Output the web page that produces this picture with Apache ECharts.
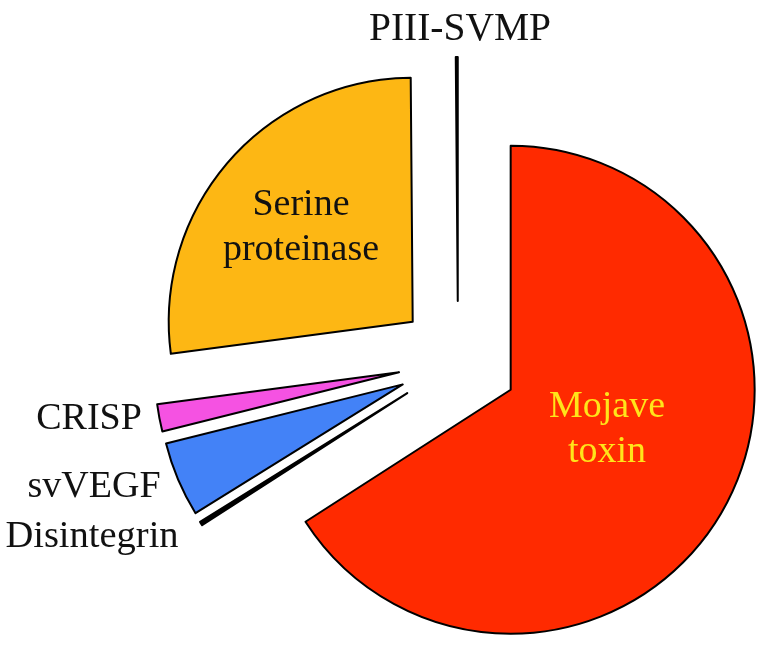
<!DOCTYPE html>
<html>
<head>
<meta charset="utf-8">
<script src="https://cdn.jsdelivr.net/npm/echarts@6/dist/echarts.min.js"></script>
<style>html,body{margin:0;padding:0;background:#fff}#c{width:767px;height:651px}</style>
</head>
<body>
<div id="c"></div>
<script>
// Data (percent of venom), clockwise from 12 o'clock
var categories = ['Mojave toxin', 'Disintegrin', 'svVEGF', 'CRISP', 'Serine proteinase', 'PIII-SVMP'];
var values = [65.9, 0.25, 4.95, 1.8, 26.97, 0.13];
var labelTexts = ['Mojave\ntoxin', 'Disintegrin', 'svVEGF', 'CRISP', 'Serine\nproteinase', 'PIII-SVMP'];

var colors = ['#FF2A00', '#000000', '#4382F7', '#F552E2', '#FDB714', '#000000'];
var labelColors = ['#FFE51A', '#111', '#111', '#111', '#111', '#111'];
var labelPos = [
  [607, 430],
  [92, 537],
  [94, 487],
  [89, 419],
  [301, 228],
  [460, 30]
];
var labelSizes = [38, 38.5, 38, 38, 38, 39.5];

var chart = echarts.init(document.getElementById('c'), null, {renderer: 'canvas'});
var data = categories.map(function (c, i) {
  return {
    name: c,
    value: values[i],
    selected: true,
    itemStyle: {color: colors[i]}
  };
});
var texts = labelTexts.map(function (t, i) {
  return {
    type: 'text',
    x: labelPos[i][0],
    y: labelPos[i][1],
    z: 100,
    zlevel: 0,
    silent: true,
    style: {
      text: t,
      fill: labelColors[i],
      font: labelSizes[i] + 'px "Liberation Serif"',
      lineHeight: 45,
      textAlign: 'center',
      textVerticalAlign: 'middle'
    }
  };
});
chart.setOption({
  animation: false,
  backgroundColor: '#fff',
  series: [{
    type: 'pie',
    z: 2,
    center: [458, 361],
    radius: [0, 244],
    startAngle: 90,
    clockwise: true,
    selectedMode: 'multiple',
    selectedOffset: 60,
    avoidLabelOverlap: false,
    minAngle: 0,
    silent: true,
    itemStyle: {borderColor: '#000', borderWidth: 2},
    label: {show: false},
    labelLine: {show: false},
    emphasis: {disabled: true},
    data: data
  }],
  graphic: {elements: texts}
});
</script>
</body>
</html>
